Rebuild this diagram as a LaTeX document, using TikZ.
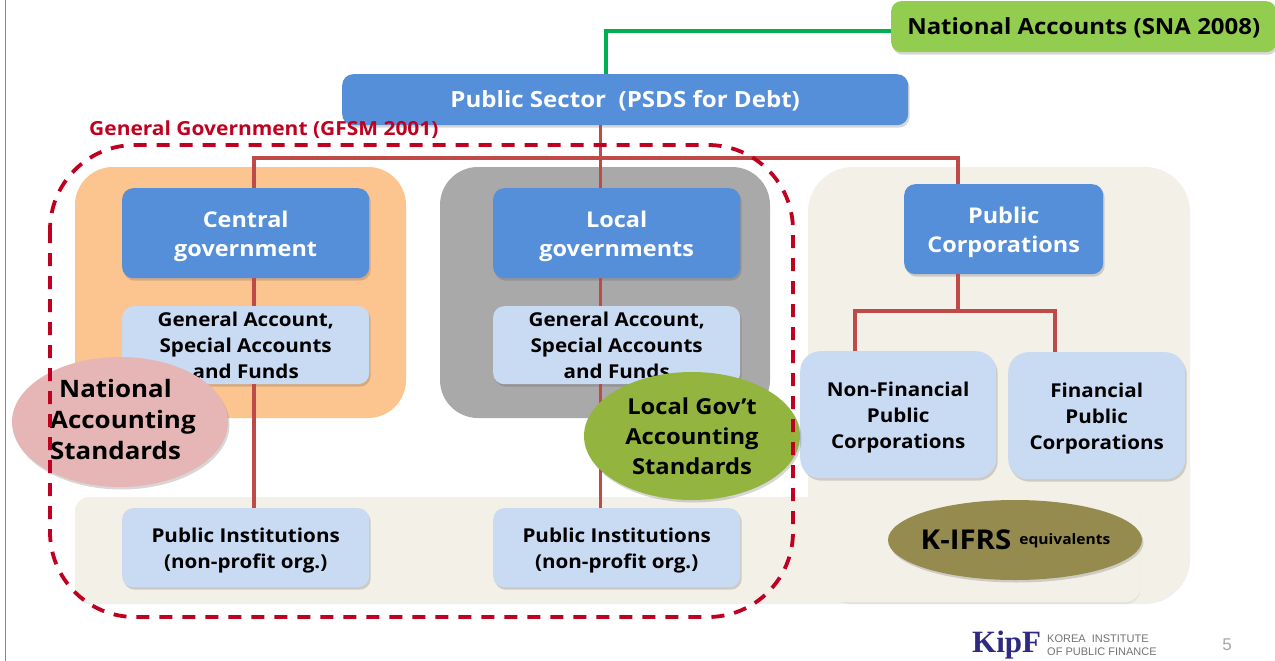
\documentclass[tikz,border=0pt]{standalone}
\usepackage{fontspec}
\setmainfont{Open Sans}[FakeStretch=1.08]
\newfontfamily\logofont{Liberation Serif}
\newfontfamily\logosans{Liberation Sans}
\usetikzlibrary{shapes.geometric,shadows,calc}
\definecolor{blueb}{HTML}{558ED9}
\definecolor{lightb}{HTML}{C9DAF3}
\definecolor{orangep}{HTML}{FCC48F}
\definecolor{grayp}{HTML}{A9A9A9}
\definecolor{tanp}{HTML}{F3F0E7}
\definecolor{redl}{HTML}{BE4B48}
\definecolor{redd}{HTML}{C00020}
\definecolor{greenl}{HTML}{00B050}
\definecolor{greenb}{HTML}{92CD50}
\definecolor{pinke}{HTML}{E6B6B6}
\definecolor{olivee}{HTML}{93B540}
\definecolor{khaki}{HTML}{958B4E}
\definecolor{logoc}{HTML}{2E2A80}
\newcommand\dnt[1]{\raisebox{-3pt}[\dimexpr\height+3pt][\dimexpr\depth+3pt]{\begin{tabular}{@{}c@{}}#1\end{tabular}}}
\tikzset{
  shad/.style={drop shadow={shadow xshift=1.5pt,shadow yshift=-2.5pt,opacity=.22,fill=black!70}},
  panel/.style={rectangle,rounded corners=38pt,anchor=north west,inner sep=0pt,outer sep=0pt},
  bluebox/.style={rectangle,rounded corners=11pt,fill=blueb,text=white,font=\bfseries\fontsize{21.7}{29}\selectfont,align=center,anchor=north west,inner sep=0pt,shad},
  lightbox/.style={rectangle,rounded corners=11pt,fill=lightb,text=black,font=\bfseries\fontsize{19.1}{26}\selectfont,align=center,anchor=north west,inner sep=0pt,shad},
  oval/.style={ellipse,inner sep=0pt,align=center,text=black,font=\bfseries},
  link/.style={redl,line width=3.2pt},
  glink/.style={greenl,line width=4pt},
  ddash/.style={redd,line width=3.8pt,dash pattern=on 13pt off 10pt,rounded corners=85pt},
}
\begin{document}
\begin{tikzpicture}[x=1pt,y=-1pt]
\useasboundingbox (0,0) rectangle (1275,661);
\fill[white] (0,0) rectangle (1275,661);
\draw[black!45,line width=1.5pt] (5.5,0) -- (5.5,661);
% panels
\node[panel,rounded corners=45pt,fill=tanp,minimum width=382pt,minimum height=435pt,drop shadow={shadow xshift=0pt,shadow yshift=-2pt,opacity=.12}] (rightpanel) at (808,167) {};
\node[panel,rounded corners=14pt,fill=tanp,minimum width=1065pt,minimum height=105pt,drop shadow={shadow xshift=0pt,shadow yshift=-2pt,opacity=.12}] (band) at (75,497) {};
\node[panel,fill=orangep,minimum width=331pt,minimum height=251pt] (orangepanel) at (75,167) {};
\node[panel,fill=grayp,minimum width=330pt,minimum height=251pt] (graypanel) at (440,167) {};
% boxes
\node[bluebox,minimum width=566pt,minimum height=51pt,font=\bfseries\fontsize{22.3}{26}\selectfont] (ps) at (342,74) {\dnt{Public Sector~~(PSDS for Debt)}};
\node[rectangle,rounded corners=10pt,fill=greenb,text=black,font=\bfseries\fontsize{22.2}{26}\selectfont,anchor=north west,inner sep=0pt,minimum width=385pt,minimum height=51pt,shad] (na) at (891,1) {\dnt{National Accounts (SNA 2008)}};
\node[bluebox,minimum width=247pt,minimum height=90pt] (cg) at (122,188) {\dnt{Central\\government}};
\node[bluebox,minimum width=247pt,minimum height=90pt] (lg) at (493,188) {\dnt{Local\\governments}};
\node[bluebox,minimum width=199pt,minimum height=90pt] (pc) at (904,184) {\dnt{Public\\Corporations}};
\node[lightbox,minimum width=247pt,minimum height=78pt] (ga1) at (122,306) {General Account,\\Special Accounts\\and Funds};
\node[lightbox,minimum width=247pt,minimum height=78pt] (ga2) at (493,306) {General Account,\\Special Accounts\\and Funds};
\node[lightbox,minimum width=247pt,minimum height=79pt] (pi1) at (122,508) {\dnt{Public Institutions\\(non-profit org.)}};
\node[lightbox,minimum width=247pt,minimum height=79pt] (pi2) at (493,508) {\dnt{Public Institutions\\(non-profit org.)}};
\node[lightbox,rounded corners=20pt,minimum width=196pt,minimum height=127pt] (nf) at (800,351) {\dnt{Non-Financial\\Public\\Corporations}};
\node[lightbox,rounded corners=20pt,minimum width=177pt,minimum height=127pt] (fp) at (1008,352) {\dnt{Financial\\Public\\Corporations}};
% connectors
\coordinate (j0) at ($(ps.south west)!0.4558!(ps.south east)$);
\coordinate (jtop) at (j0 |- 0,158);
\coordinate (jc) at (254,158);
\coordinate (jp) at (958,158);
\coordinate (jl) at (jtop |- lg.north);
\coordinate (sp) at (958,311);
\coordinate (sl) at (855,311);
\coordinate (sr) at (1055,311);
\draw[link] (ps.south -| j0) -- (jl);
\draw[link] (jc |- cg.north) -- (jc) -- (jp) -- (jp |- pc.north);
\draw[link] (jc |- cg.south) -- (jc |- ga1.north);
\draw[link] (jc |- ga1.south) -- (jc |- pi1.north);
\draw[link] (jl |- lg.south) -- (jl |- ga2.north);
\draw[link] (jl |- ga2.south) -- (jl |- pi2.north);
\draw[link] (jp |- pc.south) -- (sp);
\draw[link] (sl |- nf.north) -- (sl) -- (sr) -- (sr |- fp.north);
\coordinate (gc) at (606,31);
\draw[glink,line cap=butt] (na.west |- gc) -- (gc) -- (gc |- ps.north);
% ovals
\node[oval,fill=pinke,minimum width=216pt,minimum height=130pt,shad] (nas) at (120,422) {};
\node[font=\bfseries\fontsize{24}{31}\selectfont,align=left,anchor=west,inner sep=0pt] (nast) at (50,419) {\hspace{9pt}National\\Accounting\\Standards};
\node[oval,fill=olivee,minimum width=216pt,minimum height=128pt,shad,inner xsep=-20pt,inner ysep=-20pt,font=\bfseries\fontsize{22}{30}\selectfont] (lgs) at (692,436) {Local Gov’t\\Accounting\\Standards};
\node[oval,fill=khaki,minimum width=254pt,minimum height=80pt,shad,inner xsep=-40pt,inner ysep=-10pt] (kifrs) at (1015,540) {\hspace{1pt}\fontsize{27.3}{30}\selectfont K-IFRS\hspace{8pt}\raisebox{5pt}{\fontsize{14.4}{16}\selectfont equivalents}};
% dashed boundary
\coordinate (d1) at (50,145);
\coordinate (d2) at (793,617);
\draw[ddash] (d1) rectangle (d2);
\node[text=redd,font=\bfseries\fontsize{19.4}{22}\selectfont,anchor=west,inner sep=0pt] (gg) at (89,130) {General Government (GFSM 2001)};
% logo
\node[text=logoc,font=\logofont\bfseries\fontsize{31}{31}\selectfont,anchor=west,inner sep=0pt] (logo) at (972,645) {KipF};
\node[text=black!55,font=\logosans\fontsize{11}{13}\selectfont,align=left,anchor=west,inner sep=0pt] (logot) at (1047,645) {KOREA\ \ INSTITUTE\\OF PUBLIC FINANCE};
\node[text=black!35,font=\logosans\fontsize{17}{20}\selectfont,inner sep=0pt] (pn) at (1227,645) {5};
\end{tikzpicture}
\end{document}
